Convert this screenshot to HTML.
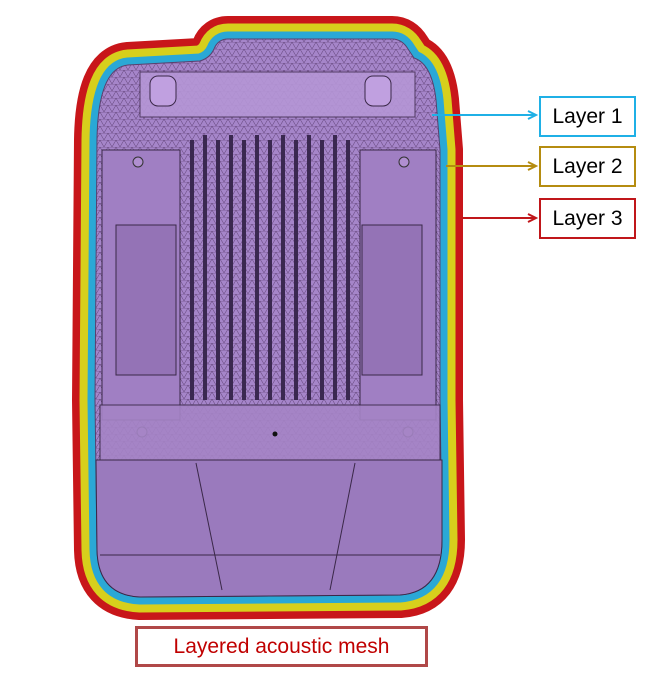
<!DOCTYPE html>
<html><head><style>
body{margin:0;background:#fff;width:658px;height:682px;overflow:hidden;font-family:"Liberation Sans",sans-serif}
.lb{position:absolute;background:#fff;font-size:21px;text-align:center;box-sizing:border-box}
</style></head><body>
<svg width="658" height="682" style="position:absolute;left:0;top:0">
<defs>
<path id="p" d="M228,39 L392,39 Q402,39 408,49 L414,58 Q432,64 436,100 L440,150 L440,400 L442,540 Q442,592 400,595 L140,597 Q98,595 97,550 L95,400 L97,140 Q98,68 128,65 L200,61 Q210,58 214,49 Q218,39 228,39 Z"/>
<pattern id="m" width="8" height="7" patternUnits="userSpaceOnUse"><path d="M0,7 L4,0 L8,7 M0,0 L8,0" stroke="#5a3c70" stroke-width="0.5" fill="none"/></pattern>
</defs>
<use href="#p" fill="none" stroke="#c8161a" stroke-width="46" stroke-linejoin="round"/>
<use href="#p" fill="none" stroke="#d7cf1c" stroke-width="31" stroke-linejoin="round"/>
<use href="#p" fill="none" stroke="#2aa8d6" stroke-width="15" stroke-linejoin="round"/>
<use href="#p" fill="#a585c9" stroke="#5a3f6e" stroke-width="1"/>
<use href="#p" fill="url(#m)"/>
<rect x="140" y="72" width="275" height="45" fill="#b596d6" stroke="#4a3458" opacity="0.9"/>
<rect x="150" y="76" width="26" height="30" rx="8" fill="#c0a0e0" stroke="#3a2848"/>
<rect x="365" y="76" width="26" height="30" rx="8" fill="#c0a0e0" stroke="#3a2848"/>
<path d="M102,150 L180,150 L180,420 L102,420 Z" fill="#a07fc3" stroke="#3a2848"/>
<path d="M360,150 L436,150 L436,420 L360,420 Z" fill="#a07fc3" stroke="#3a2848"/>
<rect x="116" y="225" width="60" height="150" fill="#9473b6" stroke="#3a2848"/>
<rect x="362" y="225" width="60" height="150" fill="#9473b6" stroke="#3a2848"/>
<circle cx="138" cy="162" r="5" fill="#b08fd0" stroke="#333"/>
<circle cx="404" cy="162" r="5" fill="#b08fd0" stroke="#333"/>
<circle cx="142" cy="432" r="5" fill="#b08fd0" stroke="#333"/>
<circle cx="408" cy="432" r="5" fill="#b08fd0" stroke="#333"/>
<g stroke="#3a2850" stroke-width="4">
<line x1="192" y1="140" x2="192" y2="400"/><line x1="205" y1="135" x2="205" y2="400"/>
<line x1="218" y1="140" x2="218" y2="400"/><line x1="231" y1="135" x2="231" y2="400"/>
<line x1="244" y1="140" x2="244" y2="400"/><line x1="257" y1="135" x2="257" y2="400"/>
<line x1="270" y1="140" x2="270" y2="400"/><line x1="283" y1="135" x2="283" y2="400"/>
<line x1="296" y1="140" x2="296" y2="400"/><line x1="309" y1="135" x2="309" y2="400"/>
<line x1="322" y1="140" x2="322" y2="400"/><line x1="335" y1="135" x2="335" y2="400"/>
<line x1="348" y1="140" x2="348" y2="400"/>
</g>
<rect x="100" y="405" width="340" height="55" fill="#a584c6" stroke="#3a2848" opacity="0.9"/>
<path d="M96,460 L442,460 L442,540 Q442,592 400,595 L140,597 Q98,595 97,550 Z" fill="#9a7abd" stroke="#3a2848"/>
<path d="M196,463 L222,590 M355,463 L330,590 M100,555 L440,555" stroke="#3a2848" fill="none"/>
<circle cx="275" cy="434" r="2.5" fill="#111"/>
<line x1="432" y1="115" x2="534" y2="115" stroke="#1fb0e6" stroke-width="2"/>
<path d="M528,111 L536,115 L528,119" stroke="#1fb0e6" stroke-width="2" fill="none"/>
<line x1="446" y1="166" x2="534" y2="166" stroke="#b58c10" stroke-width="2"/>
<path d="M528,162 L536,166 L528,170" stroke="#b58c10" stroke-width="2" fill="none"/>
<line x1="462" y1="218" x2="534" y2="218" stroke="#c0161a" stroke-width="2"/>
<path d="M528,214 L536,218 L528,222" stroke="#c0161a" stroke-width="2" fill="none"/>
</svg>
<div class="lb" style="left:539px;top:96px;width:97px;height:41px;border:2px solid #1fb0e6;line-height:37px">Layer 1</div>
<div class="lb" style="left:539px;top:146px;width:97px;height:41px;border:2px solid #b58c10;line-height:37px">Layer 2</div>
<div class="lb" style="left:539px;top:198px;width:97px;height:41px;border:2px solid #c0161a;line-height:37px">Layer 3</div>
<div class="lb" style="left:135px;top:626px;width:293px;height:41px;border:3px solid #b04848;line-height:35px;color:#c00000">Layered acoustic mesh</div>
</body></html>
